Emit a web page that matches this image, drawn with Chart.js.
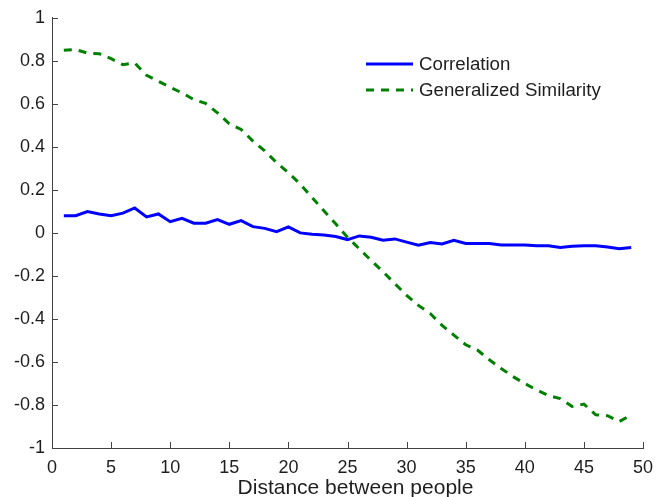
<!DOCTYPE html>
<html>
<head>
<meta charset="utf-8">
<script src="https://cdn.jsdelivr.net/npm/chart.js@4.4.0/dist/chart.umd.min.js"></script>
<style>
  html, body { margin: 0; padding: 0; background: #fff; }
  #wrap { width: 670px; height: 497px; }
</style>
</head>
<body>
<div id="wrap"><canvas id="myChart" width="670" height="497"></canvas></div>
<script>
// distance (1..49) and the two measures
const distances = [];
for (let d = 1; d <= 49; d++) distances.push(d);

const correlation = [
  0.080, 0.080, 0.099, 0.088, 0.080, 0.092, 0.116, 0.074, 0.088, 0.052,
  0.068, 0.045, 0.045, 0.062, 0.040, 0.057, 0.029, 0.021, 0.006, 0.028,
  0.000, -0.006, -0.010, -0.017, -0.031, -0.014, -0.020, -0.034, -0.028, -0.043,
  -0.057, -0.045, -0.051, -0.034, -0.049, -0.049, -0.049, -0.056, -0.056, -0.056,
  -0.060, -0.060, -0.068, -0.062, -0.060, -0.060, -0.066, -0.074, -0.068
];

const generalizedSimilarity = [
  0.849, 0.852, 0.836, 0.833, 0.810, 0.782, 0.790, 0.733, 0.705, 0.677,
  0.651, 0.620, 0.602, 0.558, 0.507, 0.481, 0.427, 0.381, 0.327, 0.280,
  0.227, 0.165, 0.103, 0.042, -0.020, -0.074, -0.128, -0.180, -0.236, -0.290,
  -0.337, -0.375, -0.430, -0.475, -0.520, -0.545, -0.590, -0.630, -0.668, -0.700,
  -0.730, -0.756, -0.770, -0.807, -0.796, -0.846, -0.850, -0.877, -0.846
];

const seriesNames = ["Correlation", "Generalized Similarity"];
const xTitle = "Distance between people";

const FONT = "'Liberation Sans', Arial, Helvetica, sans-serif";
const BLUE = "#0000ff";
const GREEN = "#008000";
const AXIS = "#444444";
const TEXT = "#1e1e1e";

const toPoints = (ys) => ys.map((y, i) => ({ x: distances[i], y: y }));

// matlab-style ticks pointing into the plot
const inwardTicks = {
  id: "inwardTicks",
  afterDraw(chart) {
    const { ctx, chartArea, scales } = chart;
    ctx.save();
    ctx.strokeStyle = AXIS;
    ctx.lineWidth = 1;
    scales.x.ticks.forEach((t) => {
      const px = Math.round(scales.x.getPixelForValue(t.value)) + 0.5;
      ctx.beginPath();
      ctx.moveTo(px, chartArea.bottom);
      ctx.lineTo(px, chartArea.bottom - 6);
      ctx.stroke();
    });
    scales.y.ticks.forEach((t) => {
      const py = Math.round(scales.y.getPixelForValue(t.value)) + 0.5;
      ctx.beginPath();
      ctx.moveTo(chartArea.left, py);
      ctx.lineTo(chartArea.left + 6, py);
      ctx.stroke();
    });
    ctx.restore();
  },
};

// x axis label, sitting a little right of the plot's centre
const axisLabel = {
  id: "axisLabel",
  afterDraw(chart) {
    const { ctx, chartArea } = chart;
    ctx.save();
    ctx.font = "21px " + FONT;
    ctx.fillStyle = TEXT;
    ctx.textAlign = "center";
    ctx.textBaseline = "middle";
    ctx.fillText(xTitle, (chartArea.left + chartArea.right) / 2 + 8, 488);
    ctx.restore();
  },
};

// legend in the upper right of the plot
const lineLegend = {
  id: "lineLegend",
  afterDraw(chart) {
    const { ctx } = chart;
    const items = [
      { label: seriesNames[0], color: BLUE, dash: [] },
      { label: seriesNames[1], color: GREEN, dash: [8, 7] },
    ];
    ctx.save();
    ctx.font = "18.7px " + FONT;
    ctx.textBaseline = "middle";
    items.forEach((it, i) => {
      const y = 64 + i * 26;
      ctx.strokeStyle = it.color;
      ctx.lineWidth = 3;
      ctx.setLineDash(it.dash);
      ctx.beginPath();
      ctx.moveTo(366, y);
      ctx.lineTo(413, y);
      ctx.stroke();
      ctx.setLineDash([]);
      ctx.fillStyle = TEXT;
      ctx.fillText(it.label, 419, y + 1);
    });
    ctx.restore();
  },
};

const ctx = document.getElementById("myChart").getContext("2d");
new Chart(ctx, {
  type: "line",
  data: {
    datasets: [
      {
        label: seriesNames[0],
        data: toPoints(correlation),
        borderColor: BLUE,
        borderWidth: 3,
        pointRadius: 0,
        tension: 0,
        fill: false,
      },
      {
        label: seriesNames[1],
        data: toPoints(generalizedSimilarity),
        borderColor: GREEN,
        borderWidth: 3,
        borderDash: [8, 7],
        pointRadius: 0,
        tension: 0,
        fill: false,
      },
    ],
  },
  options: {
    responsive: false,
    animation: false,
    layout: { padding: { top: 17, right: 27, left: 0, bottom: 0 } },
    plugins: {
      legend: { display: false },
      tooltip: { enabled: false },
    },
    scales: {
      x: {
        type: "linear",
        min: 0,
        max: 50,
        grid: { display: false, drawTicks: false },
        border: { display: true, color: AXIS, width: 1 },
        ticks: {
          stepSize: 5,
          maxRotation: 0,
          autoSkip: false,
          padding: 9,
          color: TEXT,
          font: { family: FONT, size: 18 },
        },
        afterFit(scale) { scale.height = 49; },
      },
      y: {
        min: -1,
        max: 1,
        grid: { display: false, drawTicks: false },
        border: { display: true, color: AXIS, width: 1 },
        ticks: {
          stepSize: 0.2,
          autoSkip: false,
          padding: 7,
          color: TEXT,
          font: { family: FONT, size: 18 },
          callback: (v) => {
            const r = Math.round(v * 10) / 10;
            return r === 0 ? "0" : String(r);
          },
        },
        afterFit(scale) { scale.width = 52; },
      },
    },
  },
  plugins: [inwardTicks, axisLabel, lineLegend],
});
</script>
</body>
</html>
